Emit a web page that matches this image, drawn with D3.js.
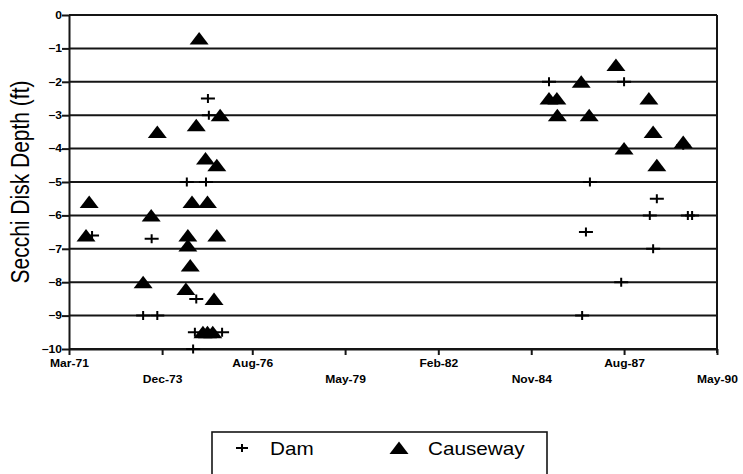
<!DOCTYPE html>
<html>
<head>
<meta charset="utf-8">
<script src="https://cdn.jsdelivr.net/npm/d3@7"></script>
<style>
	body { margin: 0; background: #fff; }
	svg { display: block; font-family: "Liberation Sans", Arial, sans-serif; }
</style>
</head>
<body>
<svg id="chart"></svg>
<script>
const width = 743;
const height = 474;

// axis ticks
const xTickDates = ['1971-03-01', '1973-12-01', '1976-08-01', '1979-05-01', '1982-02-01', '1984-11-01', '1987-08-01', '1990-05-01'];
const yTicks = [0, -1, -2, -3, -4, -5, -6, -7, -8, -9, -10];

// Dam series
const damDates = ['1971-11-05', '1973-05-10', '1973-08-10', '1973-10-10', '1974-08-25', '1974-11-01', '1974-11-20', '1974-12-05',
	'1975-03-20', '1975-04-10', '1975-04-20', '1975-09-10',
	'1985-05-12', '1986-05-05', '1986-06-15', '1986-07-28', '1987-07-01', '1987-08-01', '1988-05-05', '1988-06-10',
	'1988-07-20', '1989-05-01', '1989-06-20', '1989-08-05'];
const damDepths = [-6.6, -9.0, -6.7, -9.0, -5.0, -10.0, -9.5, -8.5,
	-5.0, -2.5, -3.0, -9.5,
	-2.0, -9.0, -6.5, -5.0, -8.0, -2.0, -6.0, -7.0,
	-5.5, -3.9, -6.0, -6.0];

// Causeway series
const causewayDates = ['1971-09-01', '1971-10-05', '1973-05-10', '1973-08-05', '1973-10-10', '1974-08-15', '1974-09-05', '1974-09-05',
	'1974-10-01', '1974-10-20', '1974-12-05', '1975-01-05', '1975-02-15', '1975-03-15', '1975-04-05', '1975-04-05',
	'1975-06-01', '1975-06-15', '1975-07-15', '1975-07-15', '1975-08-20',
	'1985-05-12', '1985-08-05', '1985-08-10', '1986-04-25', '1986-07-20', '1987-05-05', '1987-08-01', '1988-04-25',
	'1988-06-10', '1988-07-20', '1989-05-01'];
const causewayDepths = [-6.6, -5.6, -8.0, -6.0, -3.5, -8.2, -6.6, -6.9,
	-7.5, -5.6, -3.3, -0.7, -9.5, -4.3, -9.5, -5.6,
	-9.5, -8.5, -6.6, -4.5, -3.0,
	-2.5, -2.5, -3.0, -2.0, -3.0, -1.5, -4.0, -2.5,
	-3.5, -4.5, -3.8];

const parse = d3.timeParse('%Y-%m-%d');
const dam = damDates.map((d, i) => ({ date: parse(d), depth: damDepths[i] }));
const causeway = causewayDates.map((d, i) => ({ date: parse(d), depth: causewayDepths[i] }));

const plot = { left: 69, right: 717, top: 15, bottom: 349 };
const stretch = 1.15; // the scan is a bit wider than tall

const svg = d3.select('#chart')
	.attr('width', width)
	.attr('height', height);

const x = d3.scaleTime()
	.domain([parse(xTickDates[0]), parse(xTickDates[xTickDates.length - 1])])
	.range([plot.left, plot.right]);
const y = d3.scaleLinear()
	.domain([-10, 0])
	.range([plot.bottom, plot.top]);

// grid lines
svg.append('g')
	.selectAll('line')
	.data(yTicks)
	.join('line')
	.attr('x1', plot.left)
	.attr('x2', plot.right)
	.attr('y1', d => y(d))
	.attr('y2', d => y(d))
	.attr('stroke', '#151515')
	.attr('stroke-width', 2);

// right frame
svg.append('line')
	.attr('x1', plot.right).attr('x2', plot.right)
	.attr('y1', plot.top).attr('y2', plot.bottom + 4)
	.attr('stroke', '#151515')
	.attr('stroke-width', 2);

// y axis
const yAxis = svg.append('g')
	.attr('transform', `translate(${plot.left},0)`)
	.call(d3.axisLeft(y).tickValues(yTicks).tickFormat(d3.format('d')).tickSize(7).tickSizeOuter(0).tickPadding(0));
yAxis.select('.domain').attr('stroke', '#151515').attr('stroke-width', 2);
yAxis.selectAll('.tick line').attr('stroke', '#151515').attr('stroke-width', 2);
yAxis.selectAll('text')
	.attr('x', 0)
	.attr('transform', `translate(-7,0) scale(${stretch},1)`)
	.attr('font-size', 10.5)
	.attr('font-weight', 'bold')
	.attr('fill', '#000')
	.attr('font-family', '"Liberation Sans", Arial, sans-serif');

// x axis, labels alternate between two rows
const xAxis = svg.append('g')
	.attr('transform', `translate(0,${plot.bottom})`)
	.call(d3.axisBottom(x).tickValues(xTickDates.map(parse)).tickFormat(d3.timeFormat('%b-%y')).tickSize(6).tickSizeOuter(0));
xAxis.select('.domain').attr('stroke', '#151515').attr('stroke-width', 2);
xAxis.selectAll('.tick line').attr('stroke', '#151515').attr('stroke-width', 2);
xAxis.selectAll('text')
	.attr('y', 0)
	.attr('dy', 0)
	.attr('transform', (d, i) => `translate(0,${i % 2 ? 34 : 18}) scale(${stretch},1)`)
	.attr('font-size', 10.5)
	.attr('font-weight', 'bold')
	.attr('fill', '#000')
	.attr('font-family', '"Liberation Sans", Arial, sans-serif');

// y title
svg.append('text')
	.attr('transform', `translate(29,182) scale(1.2,1) rotate(-90)`)
	.attr('text-anchor', 'middle')
	.attr('font-size', 21)
	.attr('fill', '#000')
	.text('Secchi Disk Depth (ft)');

// markers
const triangle = 'M0,-6.5L9.5,6L-9.5,6Z';
const plus = 'M-7,0H7M0,-4.5V4.5';

svg.append('g')
	.selectAll('path')
	.data(causeway)
	.join('path')
	.attr('transform', d => `translate(${x(d.date)},${y(d.depth)})`)
	.attr('d', triangle)
	.attr('fill', '#000');

svg.append('g')
	.selectAll('path')
	.data(dam)
	.join('path')
	.attr('transform', d => `translate(${x(d.date)},${y(d.depth)})`)
	.attr('d', plus)
	.attr('fill', 'none')
	.attr('stroke', '#000')
	.attr('stroke-width', 2);

// legend
const legend = svg.append('g');
legend.append('rect')
	.attr('x', 212).attr('y', 432)
	.attr('width', 335).attr('height', 60)
	.attr('fill', 'none')
	.attr('stroke', '#151515')
	.attr('stroke-width', 1.6);
legend.append('path')
	.attr('transform', 'translate(242,448)')
	.attr('d', 'M-6,0H6M0,-4V4')
	.attr('stroke', '#000')
	.attr('stroke-width', 2);
legend.append('text')
	.attr('transform', `translate(270,455) scale(${stretch},1)`)
	.attr('font-size', 18)
	.text('Dam');
legend.append('path')
	.attr('transform', 'translate(399,448)')
	.attr('d', triangle)
	.attr('fill', '#000');
legend.append('text')
	.attr('transform', `translate(428,455) scale(${stretch},1)`)
	.attr('font-size', 18)
	.text('Causeway');
</script>
</body>
</html>
